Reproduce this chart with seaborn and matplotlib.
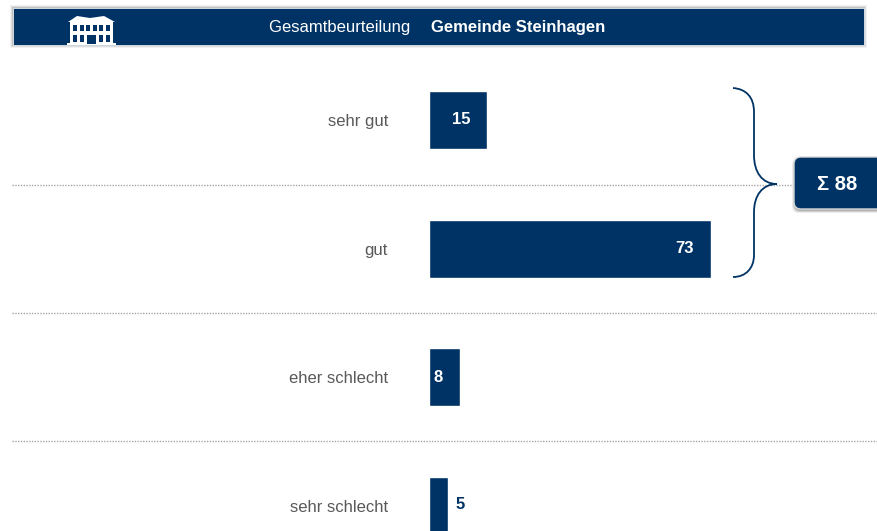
import matplotlib
matplotlib.use('Agg')
import matplotlib.pyplot as plt
import seaborn as sns
import pandas as pd
from matplotlib.patches import FancyBboxPatch, Rectangle, Polygon, PathPatch
from matplotlib.path import Path

categories = ['sehr gut', 'gut', 'eher schlecht', 'sehr schlecht']
values = [15, 73, 8, 5]
total_label = 'Σ 88'
header_plain = 'Gesamtbeurteilung '
header_bold = 'Gemeinde Steinhagen'

NAVY = '#003365'
W, H = 877, 531

sns.set_theme(style='white')
plt.rcParams['font.family'] = ['Liberation Sans', 'DejaVu Sans']

fig = plt.figure(figsize=(W / 100, H / 100), dpi=100)

# Overlay in pixel coordinates for header, separators, brace and sum box
deco = fig.add_axes([0, 0, 1, 1])
deco.set_xlim(0, W)
deco.set_ylim(H, 0)
deco.axis('off')

# Bar axes: x=0 sits at px 429, one unit is about 3.86 px
ax = fig.add_axes([429 / W, 0, (W - 429) / W, (H - 56) / H])
ax.patch.set_alpha(0)
df = pd.DataFrame({'category': categories, 'value': values})
sns.barplot(data=df, x='value', y='category', color=NAVY, saturation=1,
            width=58 / 128.5, ax=ax)
ax.set_xlim(0, (W - 429) / 3.86)
ax.set_ylim((H - 120) / 128.5, -64 / 128.5)
ax.set_xlabel('')
ax.set_ylabel('')
ax.set_xticks([])
ax.set_yticks(range(len(categories)))
ax.set_yticklabels(categories, fontsize=12, color='#595959')
ax.tick_params(axis='y', length=0, pad=29.5)
sns.despine(ax=ax, left=True, bottom=True, top=True, right=True)

# Value labels: inside the bar, right aligned, except for the smallest
for i, v in enumerate(values):
    if v >= 8:
        ax.annotate(str(v), (v, i), xytext=(-12, 0), textcoords='offset points',
                    ha='right', va='center', color='white', fontsize=12, fontweight='bold')
    else:
        ax.annotate(str(v), (v, i), xytext=(5, 1), textcoords='offset points',
                    ha='left', va='center', color=NAVY, fontsize=12, fontweight='bold')

# Dotted separators
for y in [184.5, 313, 441]:
    deco.plot([12, W], [y, y], color='#a6a6a6', lw=1, ls=(0, (1, 1)), zorder=1)

# Header band with soft shadow
for grow, alpha in [(3, 0.08), (2, 0.12), (1, 0.2)]:
    deco.add_patch(Rectangle((13 - grow, 8 - grow), W - 26 + 2 * grow, 37 + 2 * grow,
                             fc='#555555', ec='none', alpha=alpha, zorder=2))
deco.add_patch(Rectangle((13, 8), W - 26, 37, fc=NAVY, ec='white', lw=0.5, zorder=3))
t = deco.text(269, 27.5, header_plain, color='white', fontsize=12, va='center', ha='left', zorder=4)
fig.canvas.draw()
bb = t.get_window_extent()
deco.text(431, 27.5, header_bold, color='white', fontsize=12, fontweight='bold',
          va='center', ha='left', zorder=4)

# Building icon
deco.add_patch(Polygon([(68, 22), (77, 16), (90, 18), (104, 16), (115, 22)],
                       fc='white', ec='none', zorder=4))
deco.add_patch(Rectangle((70, 22), 43, 22, fc='white', ec='none', zorder=4))
deco.add_patch(Rectangle((67, 43), 49, 2, fc='white', ec='none', zorder=4))
for x in [73, 79.5, 86, 92.5, 99, 105.5]:
    deco.add_patch(Rectangle((x, 25), 4, 6, fc=NAVY, ec='none', zorder=5))
for x in [73, 79.5, 99, 105.5]:
    deco.add_patch(Rectangle((x, 35), 4, 6.5, fc=NAVY, ec='none', zorder=5))
deco.add_patch(Rectangle((86.5, 35), 9, 9, fc=NAVY, ec='none', zorder=5))

# Curly brace
verts = [(733, 88), (746, 89), (754, 97), (754, 112), (754, 155), (754, 172), (762, 184), (777, 184),
         (762, 184), (754, 196), (754, 212), (754, 255), (754, 268), (746, 277), (733, 277)]
codes = [Path.MOVETO, Path.CURVE4, Path.CURVE4, Path.CURVE4, Path.LINETO,
         Path.CURVE4, Path.CURVE4, Path.CURVE4, Path.CURVE4, Path.CURVE4, Path.CURVE4,
         Path.LINETO, Path.CURVE4, Path.CURVE4, Path.CURVE4]
deco.add_patch(PathPatch(Path(verts, codes), fc='none', ec=NAVY, lw=1.3, zorder=4))

# Sum box with shadow
for grow, alpha in [(3, 0.1), (2, 0.15), (1, 0.25)]:
    deco.add_patch(FancyBboxPatch((795 - grow, 159 - grow + 2), 90 + 2 * grow, 49 + 2 * grow,
                                  boxstyle='round,pad=0,rounding_size=7', fc='#444444', ec='none',
                                  alpha=alpha, zorder=4))
deco.add_patch(FancyBboxPatch((794, 157), 90, 52, boxstyle='round,pad=0,rounding_size=7',
                              fc=NAVY, ec='#d8d8d8', lw=1, zorder=5, clip_on=True))
deco.text(837.5, 184, total_label, color='white', fontsize=14.5, fontweight='bold',
          ha='center', va='center', zorder=6)

fig.savefig('out.png', dpi=100)
